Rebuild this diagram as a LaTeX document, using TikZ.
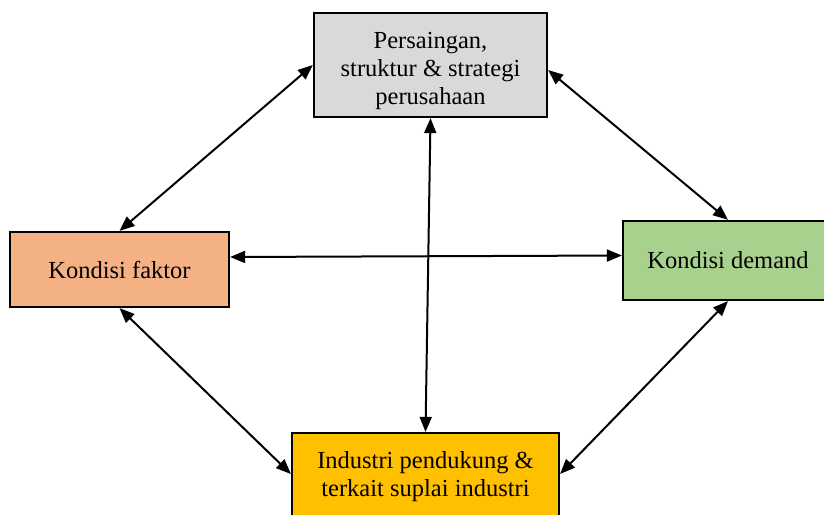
\documentclass[tikz,border=0pt]{standalone}
\usepackage{fontspec}
\setmainfont{Liberation Serif}
\usetikzlibrary{arrows.meta}
\definecolor{boxgray}{HTML}{D9D9D9}
\definecolor{boxorange}{HTML}{F4B183}
\definecolor{boxgreen}{HTML}{A9D18E}
\definecolor{boxyellow}{HTML}{FFC000}

\begin{document}
\begin{tikzpicture}[x=1pt,y=-1pt,>={Triangle[length=15pt,width=12pt]},
  teks/.style={align=center,font=\fontsize{24.5}{28}\selectfont},
  kotak/.style={draw,line width=2.2pt,teks,inner sep=0pt},
  panah/.style={<->,line width=2pt}]
\useasboundingbox (0,0) rectangle (824,514);
\node[kotak,fill=boxgray,minimum width=233pt,minimum height=104pt,
  label={[teks,yshift=-6pt]center:{Persaingan,\\ struktur \& strategi\\ perusahaan}}] (saing) at (430.5,65) {};
\node[kotak,fill=boxorange,minimum width=219pt,minimum height=75pt] (faktor) at (119.5,269.5) {Kondisi faktor};
\node[kotak,fill=boxgreen,minimum width=210pt,minimum height=79pt] (demand) at (728,260.5) {Kondisi demand};
\node[kotak,fill=boxyellow,minimum width=267pt,minimum height=88pt] (industri) at (425.5,477) {Industri pendukung \&\\ terkait suplai industri};
% panah dua arah
\draw[panah] (saing.west) -- (faktor.north);
\draw[panah] ([yshift=-5pt]saing.east) -- (demand.north);
\draw[panah] ([yshift=12.5pt]faktor.east) -- ([yshift=5pt]demand.west);
\draw[panah] (saing.south) -- (industri.north);
\draw[panah] (faktor.south) -- ([yshift=3pt]industri.west);
\draw[panah] (demand.south) -- ([yshift=3pt]industri.east);
\end{tikzpicture}
\end{document}
